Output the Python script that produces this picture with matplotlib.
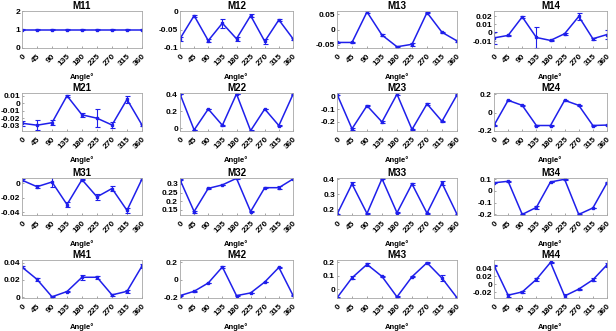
import numpy as np
import matplotlib
matplotlib.use("Agg")
import matplotlib.pyplot as plt

plt.rcParams['font.family'] = ['Liberation Sans', 'DejaVu Sans']
plt.rcParams['font.weight'] = 'bold'

angles = [0, 45, 90, 135, 180, 225, 270, 315, 360]
names = ["M11", "M12", "M13", "M14",
         "M21", "M22", "M23", "M24",
         "M31", "M32", "M33", "M34",
         "M41", "M42", "M43", "M44"]

# mean values
m11 = [1, 1, 1, 1, 1, 1, 1, 1, 1]
m12 = [-0.075, -0.0125, -0.08, -0.033, -0.075, -0.0125, -0.082, -0.024, -0.075]
m13 = [-0.042, -0.042, 0.057, -0.018, -0.056, -0.048, 0.055, -0.009, -0.037]
m14 = [-0.006, -0.003, 0.019, -0.0055, -0.009, -0.001, 0.0195, -0.007, -0.002]
m21 = [-0.0267, -0.0293, -0.026, 0.0098, -0.0155, -0.02, -0.029, 0.005, -0.029]
m22 = [0.405, -0.02, 0.227, 0.035, 0.405, -0.028, 0.227, 0.032, 0.40]
m23 = [0.015, -0.253, -0.074, -0.2, 0.015, -0.258, -0.06, -0.195, 0.01]
m24 = [-0.138, 0.135, 0.08, -0.14, -0.14, 0.135, 0.08, -0.14, -0.135]
m31 = [0.004, -0.005, 0.0015, -0.0296, 0.0047, -0.019, -0.0075, -0.0376, 0.0056]
m32 = [0.324, 0.14, 0.274, 0.294, 0.332, 0.14, 0.278, 0.278, 0.328]
m33 = [0.164, 0.37, 0.17, 0.405, 0.175, 0.37, 0.172, 0.375, 0.165]
m34 = [0.07, 0.083, -0.2, -0.14, 0.077, 0.1, -0.2, -0.145, 0.07]
m41 = [0.0348, 0.0206, 0.0004, 0.0065, 0.023, 0.023, 0.0026, 0.0067, 0.036]
m42 = [-0.183, -0.133, -0.038, 0.145, -0.183, -0.152, -0.027, 0.14, -0.18]
m43 = [-0.061, 0.085, 0.183, 0.095, -0.054, 0.093, 0.195, 0.083, -0.06]
m44 = [0.046, -0.027, -0.019, 0.012, 0.054, -0.029, -0.012, 0.011, 0.048]

# error bar half widths
e11 = [0.01, 0.01, 0.01, 0.01, 0.01, 0.01, 0.01, 0.01, 0.01]
e12 = [0.005, 0.003, 0.003, 0.012, 0.006, 0.004, 0.006, 0.002, 0.003]
e13 = [0.002, 0.002, 0.002, 0.002, 0.002, 0.005, 0.002, 0.002, 0.002]
e14 = [0.0067, 0.001, 0.001, 0.012, 0.001, 0.001, 0.004, 0.001, 0.005]
e21 = [0.003, 0.007, 0.003, 0.001, 0.003, 0.012, 0.004, 0.005, 0.001]
e22 = [0.005, 0.005, 0.005, 0.005, 0.005, 0.005, 0.005, 0.005, 0.005]
e23 = [0.006, 0.008, 0.005, 0.005, 0.006, 0.006, 0.005, 0.005, 0.005]
e24 = [0.004, 0.006, 0.004, 0.004, 0.004, 0.006, 0.004, 0.004, 0.004]
e31 = [0.001, 0.002, 0.007, 0.003, 0.001, 0.004, 0.004, 0.003, 0.001]
e32 = [0.004, 0.006, 0.003, 0.002, 0.002, 0.005, 0.003, 0.007, 0.002]
e33 = [0.004, 0.01, 0.005, 0.004, 0.004, 0.006, 0.004, 0.015, 0.003]
e34 = [0.005, 0.004, 0.005, 0.01, 0.004, 0.004, 0.004, 0.004, 0.004]
e41 = [0.001, 0.002, 0.0005, 0.0005, 0.003, 0.002, 0.0008, 0.002, 0.002]
e42 = [0.005, 0.004, 0.005, 0.006, 0.004, 0.004, 0.004, 0.005, 0.004]
e43 = [0.003, 0.01, 0.01, 0.003, 0.003, 0.003, 0.005, 0.02, 0.003]
e44 = [0.001, 0.004, 0.003, 0.004, 0.002, 0.004, 0.001, 0.004, 0.005]

means = [m11, m12, m13, m14, m21, m22, m23, m24,
         m31, m32, m33, m34, m41, m42, m43, m44]
errs = [e11, e12, e13, e14, e21, e22, e23, e24,
        e31, e32, e33, e34, e41, e42, e43, e44]

ylims = [(0, 2), (-0.1, 0), (-0.06, 0.06), (-0.018, 0.026),
         (-0.037, 0.0135), (-0.032, 0.416), (-0.27, 0.024), (-0.2, 0.215),
         (-0.044, 0.007), (0.12, 0.334), (0.16, 0.41), (-0.205, 0.111),
         (-0.001, 0.043), (-0.21, 0.225), (-0.062, 0.215), (-0.034, 0.06)]
yticks = [[0, 1, 2], [-0.1, -0.05, 0], [-0.05, 0, 0.05], [-0.01, 0, 0.01, 0.02],
          [-0.03, -0.02, -0.01, 0, 0.01], [0, 0.2, 0.4], [-0.2, -0.1, 0], [-0.2, 0, 0.2],
          [-0.04, -0.02, 0], [0.15, 0.2, 0.25, 0.3], [0.2, 0.3, 0.4], [-0.2, -0.1, 0, 0.1],
          [0, 0.02, 0.04], [-0.2, 0, 0.2], [0, 0.1, 0.2], [-0.02, 0, 0.02, 0.04]]

W, H = 616, 331
col_x = [(22, 142), (180, 293), (337, 457), (494, 607)]
row_y = [(11, 48), (93, 131), (178, 215), (260, 298)]

fig = plt.figure(figsize=(6.16, 3.31), dpi=100)
blue = (0.12, 0.12, 0.92)

for k in range(16):
    r, c = divmod(k, 4)
    x0, x1 = col_x[c]
    y0, y1 = row_y[r]
    ax = fig.add_axes([x0 / W, 1 - y1 / H, (x1 - x0) / W, (y1 - y0) / H])
    ax.errorbar(angles, means[k], yerr=errs[k], color=blue, lw=1.1,
                marker='s', ms=1.8, capsize=1.8, elinewidth=0.8, capthick=0.8)
    ax.set_xlim(0, 360)
    ax.set_ylim(*ylims[k])
    ax.set_xticks(angles)
    ax.set_xticklabels([str(a) for a in angles], rotation=45, ha='right',
                       rotation_mode='anchor', fontsize=6, fontweight='bold')
    ax.set_yticks(yticks[k])
    ax.set_yticklabels(['%g' % t for t in yticks[k]], fontsize=6, fontweight='bold')
    ax.tick_params(direction='in', length=1.5, width=0.5, pad=1.5, colors='0.5',
                   labelcolor='black')
    ax.tick_params(axis='x', pad=3.5)
    for s in ax.spines.values():
        s.set_color('0.65')
        s.set_linewidth(0.6)
    ax.set_title(names[k], fontsize=7, fontweight='bold', pad=1.5)
    ax.set_xlabel('Angle°', fontsize=5.5, fontweight='bold', labelpad=4)

fig.savefig('out.png', dpi=100)
